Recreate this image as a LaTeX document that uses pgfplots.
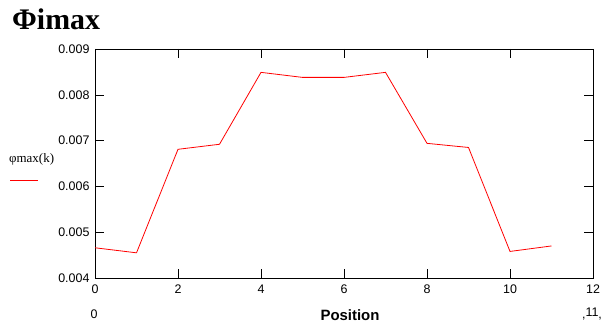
\documentclass[border=0pt]{standalone}
\usepackage{fontspec}
\setmainfont{Liberation Serif}
\setsansfont{Liberation Sans}
\usepackage{pgfplots}
\pgfplotsset{compat=1.18}
\begin{document}
\begin{tikzpicture}[x=1bp,y=1bp]
\path[use as bounding box] (0,0) rectangle (613,324);
\begin{axis}[
  at={(95bp,46bp)}, anchor=south west,
  scale only axis, width=498bp, height=229bp,
  xmin=0, xmax=12, ymin=0.004, ymax=0.009,
  xtick={0,2,...,12}, ytick={0.004,0.005,...,0.009},
  tick align=inside, major tick length=9bp,
  tick style={black, line width=0.6pt},
  axis line style={black, line width=0.8pt},
  /pgf/number format/assume math mode=true,
  /pgf/number format/fixed, /pgf/number format/precision=3,
  /pgf/number format/fixed zerofill,
  xticklabel style={/pgf/number format/fixed zerofill=false, /pgf/number format/precision=0},
  ticklabel style={font=\sffamily\fontsize{12.5}{12.5}\selectfont},
  scaled y ticks=false,
  yticklabel style={xshift=-2bp},
  xticklabel style={yshift=-3bp},
]
\addplot[red, line width=0.8pt] coordinates {
(0,0.00466) (1,0.00455) (2,0.00681) (3,0.00692) (4,0.00849) (5,0.00838)
(6,0.00838) (7,0.00849) (8,0.00694) (9,0.00685) (10,0.00458) (11,0.00470)
};
\end{axis}
\node[anchor=base west, font=\bfseries\fontsize{30}{30}\selectfont, inner sep=0] at (12,295) {Φimax};
\node[anchor=base west, font=\fontsize{13}{13}\selectfont, inner sep=0] at (9,162) {φmax(k)};
\draw[red, line width=0.8pt] (10,144) -- (38,144);
\node[font=\sffamily\bfseries\fontsize{15}{15}\selectfont, inner sep=0] at (350,9) {Position};
\node[font=\sffamily\fontsize{12.5}{12.5}\selectfont, inner sep=0] at (94,10) {0};
\node[font=\sffamily\fontsize{12.5}{12.5}\selectfont, inner sep=0] at (592,10) {\raisebox{-2bp}{,}11\raisebox{-2bp}{,}};
\end{tikzpicture}
\end{document}
